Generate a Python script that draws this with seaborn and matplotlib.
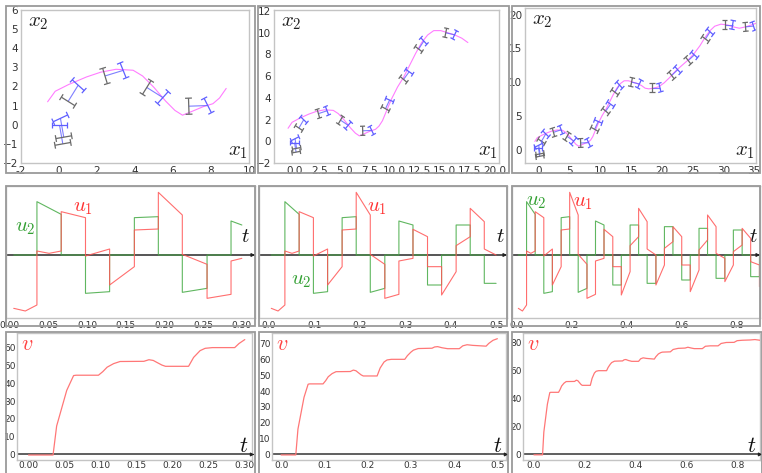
import numpy as np
import pandas as pd
import matplotlib
matplotlib.use("Agg")
import matplotlib.pyplot as plt
import seaborn as sns
from matplotlib.collections import LineCollection
from matplotlib.patches import Rectangle

sns.set_theme(style="white")
plt.rcParams["font.family"] = ["DejaVu Sans"]
plt.rcParams["mathtext.fontset"] = "cm"

# ---------------- data ----------------
# control segments (piecewise), boundaries in t
seg_t = [0.005, 0.035, 0.0664, 0.0978, 0.129, 0.161, 0.192, 0.223, 0.255, 0.286,
         0.317, 0.349, 0.380, 0.412, 0.443, 0.474, 0.506, 0.537, 0.568, 0.600,
         0.631, 0.663, 0.694, 0.725, 0.757, 0.788, 0.820, 0.851, 0.883, 0.915]
u1_start = [-1.6, 0.12, 1.3, -0.03, -0.9, 0.75, 1.88, 0.02, -1.3, -0.18,
            0.77, -0.35, -1.2, 0.28, 1.4, 0.18, -0.9, 0.2, 0.85, -0.3,
            -1.1, 0.15, 1.2, 0.05, -0.8, 0.1, 0.8, -0.2, -0.95]
u1_mid = [-1.68, 0.05, None, None, None, None, None, None, None, None,
          None, None, None, None, None, None, None, None, None, None,
          None, None, None, None, None, None, None, None, None]
u1_end = [-1.5, 0.12, 1.12, 0.18, -0.35, 0.78, 1.2, -0.28, -1.18, -0.1,
          0.55, -0.35, -0.5, 0.55, 1.0, 0.0, -0.3, 0.4, 0.55, -0.3,
          -0.45, 0.45, 0.85, -0.1, -0.3, 0.3, 0.5, -0.3, -0.85]
u2_start = [0, 1.6, 0, -1.15, 0, 1.12, 0, -1.12, 0, 1.02,
            0, -0.9, 0, 0.9, 0, -0.85, 0, 0.85, 0, -0.75,
            0, 0.8, 0, -0.7, 0, 0.75, 0, -0.65, 0]
u2_end = [0, 1.22, 0, -1.1, 0, 1.15, 0, -1.0, 0, 0.9,
          0, -0.9, 0, 0.9, 0, -0.85, 0, 0.85, 0, -0.75,
          0, 0.8, 0, -0.7, 0, 0.75, 0, -0.65, 0]
horizons = [0.30, 0.50, 0.89]

# speed v(t)
v_t = [0.0, 0.034, 0.039, 0.046, 0.053, 0.0625, 0.066, 0.097, 0.103, 0.109, 0.118,
       0.127, 0.16, 0.167, 0.173, 0.178, 0.185, 0.19, 0.222, 0.229, 0.238, 0.245,
       0.255, 0.286, 0.292, 0.30, 0.306, 0.317, 0.349, 0.355, 0.362, 0.372, 0.385,
       0.412, 0.42, 0.43, 0.443, 0.474, 0.48, 0.49, 0.50, 0.506, 0.537, 0.548,
       0.568, 0.595, 0.606, 0.62, 0.631, 0.663, 0.675, 0.694, 0.725, 0.737, 0.757,
       0.788, 0.80, 0.82, 0.851, 0.87, 0.89]
v_val = [-0.3, -0.3, 16, 26, 36, 44.3, 44.5, 44.5, 46.5, 49, 51,
         52.2, 52.3, 53.2, 52.8, 51.7, 50.2, 49.5, 49.5, 54.5, 58.3, 59.6,
         60, 60, 62.3, 64.5, 65.8, 66.8, 67, 67.8, 68, 67.3, 66.7,
         66.7, 68.5, 69.2, 68.8, 68.3, 70, 72, 73, 73.3, 73.5, 75.2,
         76, 76.2, 76.8, 76.2, 75.8, 75.8, 77.5, 77.8, 77.8, 79.5, 80.2,
         80.3, 81.5, 81.8, 82, 82.3, 81.8]

# planar path (x1, x2)
path_x1 = [-0.6, -0.2, 0.5, 1.45, 2.2, 3.0, 3.9, 4.4, 5.0, 5.6, 6.1, 6.5, 7.0, 7.6, 8.1, 8.45, 8.8,
           9.2, 9.7, 10.3, 10.9, 11.5, 12.1, 12.7, 13.3, 13.9, 14.6, 15.3, 16.0, 16.7, 17.3,
           17.9, 18.6, 19.5, 20.4, 21.3, 22.3, 23.3, 24.3, 25.3, 26.2, 27.0, 27.8, 28.6, 29.6,
           30.6, 31.6, 32.6, 33.6, 34.6, 35.5]
path_x2 = [1.2, 1.75, 2.1, 2.5, 2.75, 2.9, 2.85, 2.55, 1.95, 1.25, 0.75, 0.5, 0.7, 0.95, 1.1, 1.4, 1.9,
           2.8, 3.9, 5.0, 5.9, 7.0, 8.1, 9.1, 9.8, 10.2, 10.2, 10.0, 9.8, 9.5, 9.1,
           9.0, 9.1, 9.3, 9.9, 10.7, 11.7, 12.5, 13.3, 14.3, 15.4, 16.6, 17.6, 18.3, 18.6,
           18.5, 18.2, 18.0, 18.2, 18.5, 18.8]
path_n = [17, 31, 51]

# car poses: rear axle position, heading (deg), steering (deg)
car_x = [0.2, 0.25, 0.48, 2.42, 4.62, 6.83, 9.1, 10.9, 12.4, 15.1, 18.4, 21.6, 24.3, 27.1, 30.2, 33.6]
car_y = [-1.0, -0.65, 1.22, 2.55, 1.95, 0.97, 3.0, 5.7, 8.5, 10.0, 9.2, 11.0, 13.2, 16.4, 18.5, 18.2]
car_th = [100, 100, 58, 17, -32, 2, 63, 52, 55, -12, 0, 40, 40, 55, 0, 5]
car_ph = [-10, 15, -10, 5, -10, 25, 5, 5, -10, -15, 15, 5, 10, -5, -10, 15]
car_n = [6, 10, 16]

# ---------------- layout ----------------
W, H = 762, 473
fig = plt.figure(figsize=(W / 100, H / 100), dpi=100)
fig.patch.set_facecolor("white")


def rect(l, r, t, b):
    return [l / W, 1 - b / H, (r - l) / W, (b - t) / H]


def outer(l, r, t, b):
    fig.patches.append(Rectangle((l / W, 1 - b / H), (r - l) / W, (b - t) / H,
                                 transform=fig.transFigure, fill=False,
                                 edgecolor="#9a9a9a", lw=1.3, zorder=10))


def style(ax):
    for s in ax.spines.values():
        s.set_color("#c4c4c4")
        s.set_linewidth(1.0)
    ax.tick_params(labelsize=7, colors="#333333", length=0, pad=2)
    ax.set_xlabel("")
    ax.set_ylabel("")


top_rects = [(21, 249, 10, 163), (274, 499, 10, 163), (525, 756, 8, 163)]
top_outer = [(6, 255, 6, 173), (258, 509, 6, 173), (512, 760, 6, 173)]
top_xlim = [(-2, 10), (-2, 20.4), (-2.2, 35.3)]
top_ylim = [(-2, 6), (-2, 12.1), (-2, 21)]
top_xt = [np.arange(-2, 11, 2), np.arange(0, 20.1, 2.5), np.arange(0, 36, 5)]
top_yt = [np.arange(-2, 7, 1), np.arange(-2, 13, 2), np.arange(0, 21, 5)]
car_size = [(1.0, 0.42, 0.18), (0.9, 0.42, 0.25), (1.3, 0.65, 0.45)]

mid_rects = [(6, 255, 186, 318), (259, 507, 186, 318), (512, 760, 186, 318)]
mid_outer = [(6, 255, 186, 326), (259, 507, 186, 326), (512, 760, 186, 326)]
mid_xlim = [(-0.005, 0.317), (-0.022, 0.524), (-0.018, 0.885)]
mid_xt = [np.arange(0, 0.31, 0.05), np.arange(0, 0.51, 0.1), np.arange(0, 0.81, 0.2)]
mid_xfmt = ["{:.2f}", "{:.1f}", "{:.1f}"]
u_lab = [((0.076, 0.69), (0.31, 0.84)), ((0.17, 0.29), (0.476, 0.84)), ((0.097, 0.89), (0.286, 0.88))]

bot_rects = [(17, 252, 333, 460), (272, 506, 333, 460), (523, 760, 333, 460)]
bot_outer = [(6, 255, 332, 480), (259, 508, 332, 480), (512, 762, 332, 480)]
bot_xlim = [(-0.016, 0.31), (-0.021, 0.52), (-0.043, 0.89)]
bot_ylim = [(-3.1, 68.2), (-3.5, 76.6), (-4, 87)]
bot_yt = [np.arange(0, 61, 10), np.arange(0, 71, 10), np.arange(0, 81, 20)]

gray_c = "#6a6a6a"
blue_c = "#5f5fff"
mag_c = "#ff66ff"

for k in range(3):
    # ---------- row 1: trajectories ----------
    ax = fig.add_axes(rect(*top_rects[k]))
    n = path_n[k]
    dfp = pd.DataFrame({"x1": path_x1[:n], "x2": path_x2[:n]})
    sns.lineplot(data=dfp, x="x1", y="x2", ax=ax, sort=False, estimator=None,
                 color=mag_c, lw=0.8, alpha=0.85)
    L, Wd, c = car_size[k]
    gsegs, bsegs, body = [], [], []
    for i in range(car_n[k]):
        th = np.radians(car_th[i])
        ps = np.radians(car_th[i] + car_ph[i])
        r = np.array([car_x[i], car_y[i]])
        d = np.array([np.cos(th), np.sin(th)])
        f = r + L * d
        body.append([r, f])
        for centre, ang, lst in ((r, th, gsegs), (f, ps, bsegs)):
            dd = np.array([np.cos(ang), np.sin(ang)])
            nn = np.array([-np.sin(ang), np.cos(ang)])
            p1, p2 = centre + Wd * nn, centre - Wd * nn
            lst.append([p1, p2])
            lst.append([p1 - c * dd, p1 + c * dd])
            lst.append([p2 - c * dd, p2 + c * dd])
    ax.add_collection(LineCollection(body, colors=blue_c, linewidths=0.8, alpha=0.8))
    ax.add_collection(LineCollection(gsegs, colors=gray_c, linewidths=0.9))
    ax.add_collection(LineCollection(bsegs, colors=blue_c, linewidths=0.9))
    ax.set_xlim(*top_xlim[k])
    ax.set_ylim(*top_ylim[k])
    ax.set_xticks(top_xt[k])
    ax.set_yticks(top_yt[k])
    if k == 1:
        ax.set_xticklabels([f"{v:.1f}" for v in top_xt[k]])
    else:
        ax.set_xticklabels([f"{int(v)}" for v in top_xt[k]])
    style(ax)
    ax.tick_params(labelsize=7.5)
    ax.text(0.03, 0.985, r"$x_2$", transform=ax.transAxes, ha="left", va="top",
            fontsize=15, color="#222222")
    ax.text(0.995, 0.01, r"$x_1$", transform=ax.transAxes, ha="right", va="bottom",
            fontsize=15, color="#222222")
    outer(*top_outer[k])

    # ---------- row 2: controls ----------
    ax = fig.add_axes(rect(*mid_rects[k]))
    hz = horizons[k]
    t1, y1, t2, y2 = [], [], [], []
    for i in range(len(u1_start)):
        ts, te = seg_t[i], seg_t[i + 1]
        if ts >= hz:
            break
        te_c = min(te, hz)
        t1.append(ts); y1.append(u1_start[i])
        if u1_mid[i] is not None:
            t1.append(0.5 * (ts + te)); y1.append(u1_mid[i])
        t1.append(te_c); y1.append(u1_end[i])
        t2 += [ts, te_c]; y2 += [u2_start[i], u2_end[i]]
    ax.axhline(0, color="#555555", lw=1.4, zorder=1)
    sns.lineplot(x=t2, y=y2, ax=ax, sort=False, estimator=None, color="#44aa44",
                 lw=0.8, alpha=0.85, zorder=3)
    sns.lineplot(x=t1, y=y1, ax=ax, sort=False, estimator=None, color="#ff5555",
                 lw=0.8, alpha=0.85, zorder=4)
    ax.annotate("", xy=(1.0, 0), xytext=(0.985, 0), xycoords=("axes fraction", "data"),
                textcoords=("axes fraction", "data"), annotation_clip=False,
                arrowprops=dict(arrowstyle="-|>", color="#222222", lw=0.8, mutation_scale=5))
    ax.set_xlim(*mid_xlim[k])
    ax.set_ylim(-1.89, 2.07)
    ax.set_yticks([])
    ax.set_xticks(mid_xt[k])
    ax.set_xticklabels([mid_xfmt[k].format(v) for v in mid_xt[k]])
    style(ax)
    ax.tick_params(labelsize=6.5)
    (u2p, u1p) = u_lab[k]
    ax.text(u2p[0], u2p[1], r"$u_2$", transform=ax.transAxes, ha="center", va="center",
            fontsize=15, color="#33a033")
    ax.text(u1p[0], u1p[1], r"$u_1$", transform=ax.transAxes, ha="center", va="center",
            fontsize=15, color="#ff3333")
    ax.text(0.96 if k == 0 else 0.975, 0.545, r"$t$", transform=ax.transAxes,
            ha="center", va="bottom", fontsize=15, color="#111111")
    outer(*mid_outer[k])

    # ---------- row 3: speed ----------
    ax = fig.add_axes(rect(*bot_rects[k]))
    sel = [i for i in range(len(v_t)) if v_t[i] <= hz + 1e-9]
    dfv = pd.DataFrame({"t": [v_t[i] for i in sel], "v": [v_val[i] for i in sel]})
    ax.axhline(0, color="#444444", lw=1.2, zorder=1)
    sns.lineplot(data=dfv, x="t", y="v", ax=ax, sort=False, estimator=None,
                 color="#ff7777", lw=0.9, zorder=3)
    ax.annotate("", xy=(1.01, 0), xytext=(0.99, 0), xycoords=("axes fraction", "data"),
                textcoords=("axes fraction", "data"), annotation_clip=False,
                arrowprops=dict(arrowstyle="-|>", color="#222222", lw=0.8, mutation_scale=5))
    ax.set_xlim(*bot_xlim[k])
    ax.set_ylim(*bot_ylim[k])
    ax.set_xticks(mid_xt[k])
    ax.set_xticklabels([mid_xfmt[k].format(v) for v in mid_xt[k]])
    ax.set_yticks(bot_yt[k])
    style(ax)
    ax.tick_params(labelsize=6.5, pad=1)
    ax.text(0.015, 0.99, r"$v$", transform=ax.transAxes, ha="left", va="top",
            fontsize=16, color="#ff4444")
    ax.text(0.965, 0.03, r"$t$", transform=ax.transAxes, ha="center", va="bottom",
            fontsize=16, color="#111111")
    outer(*bot_outer[k])

fig.savefig("out.png", dpi=100, facecolor="white")
